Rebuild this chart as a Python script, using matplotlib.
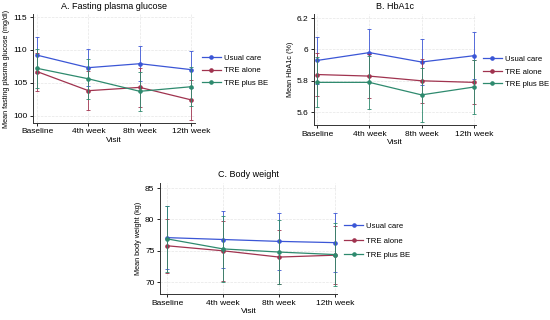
import matplotlib
matplotlib.use('Agg')
from matplotlib import pyplot as plt

visits = ['Baseline', '4th week', '8th week', '12th week']
groups = ['Usual care', 'TRE alone', 'TRE plus BE']
colors = ['#3b56d6', '#a0334f', '#2e8a6e']

# A. fasting plasma glucose (mean, error)
glu_mean = [[109.2, 107.3, 107.9, 107.0],
            [106.7, 103.8, 104.3, 102.4],
            [107.2, 105.6, 103.7, 104.4]]
glu_err = [[2.7, 2.8, 2.7, 2.8],
           [2.9, 3.0, 3.0, 3.0],
           [3.0, 3.0, 3.0, 3.0]]

# B. HbA1c
hba_mean = [[5.93, 5.98, 5.92, 5.96],
            [5.84, 5.83, 5.80, 5.79],
            [5.79, 5.79, 5.71, 5.76]]
hba_err = [[0.15, 0.15, 0.15, 0.15],
           [0.14, 0.14, 0.14, 0.14],
           [0.16, 0.17, 0.17, 0.17]]

# C. body weight
bw_mean = [[77.1, 76.8, 76.5, 76.3],
           [75.8, 75.0, 74.0, 74.3],
           [76.9, 75.3, 74.8, 74.4]]
bw_err = [[5.0, 4.6, 4.6, 4.7],
          [4.3, 4.8, 4.3, 4.6],
          [5.3, 5.2, 5.1, 5.0]]

plt.rcParams['font.family'] = ['Liberation Sans', 'DejaVu Sans']

fig = plt.figure(figsize=(5.5, 3.2), dpi=100)

panels = [
    ([0.060, 0.616, 0.295, 0.340], 'A. Fasting plasma glucose', 'Mean fasting plasma glucose (mg/dl)',
     glu_mean, glu_err, (98.9, 115.45), [100, 105, 110, 115], (-0.08, 3.08), None, 0.65),
    ([0.571, 0.609, 0.295, 0.347], 'B. HbA1c', 'Mean HbA1c (%)',
     hba_mean, hba_err, (5.517, 6.226), [5.6, 5.8, 6.0, 6.2], (-0.06, 3.05), ['5.6', '5.8', '6', '6.2'], 0.65),
    ([0.291, 0.081, 0.322, 0.347], 'C. Body weight', 'Mean body weight (kg)',
     bw_mean, bw_err, (68.1, 85.8), [70, 75, 80, 85], (-0.125, 3.04), None, 0.9),
]

for pos, title, ylabel, means, errs, ylim, yticks, xlim, ytl, lspace in panels:
    ax = fig.add_axes(pos)
    x = list(range(len(visits)))
    for i, g in enumerate(groups):
        ax.errorbar(x, means[i], yerr=errs[i], fmt='none', ecolor=colors[i],
                    elinewidth=0.6, capsize=1.6, capthick=0.6)
        ax.plot(x, means[i], color=colors[i], marker='o', markersize=2.3,
                linewidth=0.9, label=g)
    ax.set_xlim(*xlim)
    ax.set_ylim(*ylim)
    ax.set_xticks(x)
    ax.set_xticklabels(visits, fontsize=6)
    ax.set_yticks(yticks)
    if ytl:
        ax.set_yticklabels(ytl)
    ax.tick_params(axis='y', labelsize=6, length=2.5, width=0.6, pad=1.5)
    ax.tick_params(axis='x', length=2.5, width=0.6, pad=1.5)
    ax.set_title(title, fontsize=6.5, pad=4)
    ax.set_ylabel(ylabel, fontsize=5.2, labelpad=2)
    ax.set_xlabel('Visit', fontsize=6, labelpad=1)
    ax.grid(True, color='#e6e6e6', linestyle='--', linewidth=0.5)
    ax.set_axisbelow(True)
    for s in ['top', 'right']:
        ax.spines[s].set_visible(False)
    for s in ['left', 'bottom']:
        ax.spines[s].set_linewidth(0.7)
        ax.spines[s].set_color('#333333')
    ax.legend(loc='center left', bbox_to_anchor=(1.02, 0.48), frameon=False, fontsize=5.6,
              handlelength=2.5, handletextpad=0.35, labelspacing=lspace, borderaxespad=0)

fig.savefig('out.png', dpi=100)
